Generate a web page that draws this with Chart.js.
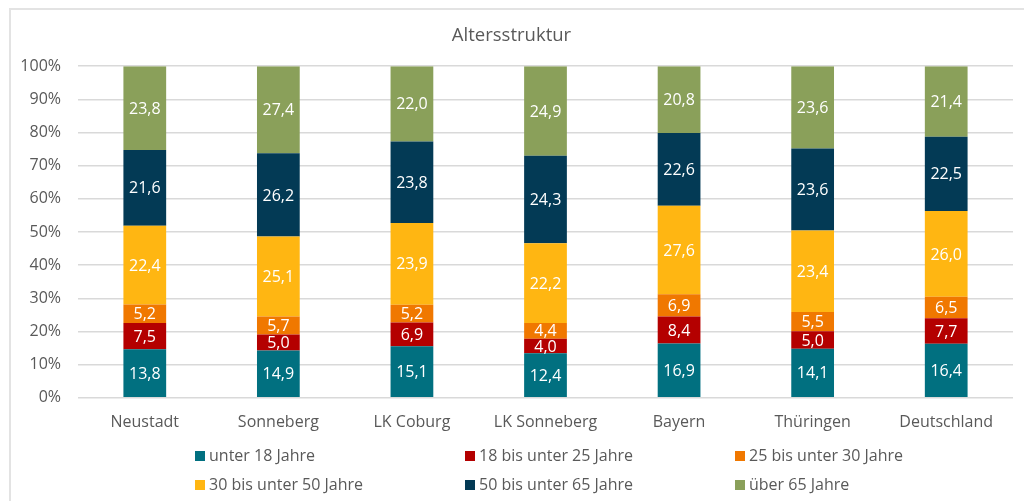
<!DOCTYPE html>
<html>
<head>
<meta charset="utf-8">
<script src="https://cdn.jsdelivr.net/npm/chart.js@4"></script>
<style>
  html, body { margin: 0; padding: 0; background: #fff; }
  #wrap { position: relative; width: 1024px; height: 501px; }
  #frame { position: absolute; left: 9px; top: 8px; right: 0; bottom: -2px;
           border-top: 2px solid #e3e3e3; border-left: 2px solid #e3e3e3; }
  canvas { position: absolute; left: 0; top: 0; }
</style>
</head>
<body>
<div id="wrap">
  <div id="frame"></div>
  <canvas id="chart" width="1024" height="501"></canvas>
</div>
<script>
// ======================================================
// Daten
// ======================================================
const regions = ["Neustadt", "Sonneberg", "LK Coburg", "LK Sonneberg", "Bayern", "Thüringen", "Deutschland"];
const groups = ["unter 18 Jahre", "18 bis unter 25 Jahre", "25 bis unter 30 Jahre",
                "30 bis unter 50 Jahre", "50 bis unter 65 Jahre", "über 65 Jahre"];

const unter18 = [13.8, 14.9, 15.1, 12.4, 16.9, 14.1, 16.4];
const von18bis25 = [7.5, 5.0, 6.9, 4.0, 8.4, 5.0, 7.7];
const von25bis30 = [5.2, 5.7, 5.2, 4.4, 6.9, 5.5, 6.5];
const von30bis50 = [22.4, 25.1, 23.9, 22.2, 27.6, 23.4, 26.0];
const von50bis65 = [21.6, 26.2, 23.8, 24.3, 22.6, 23.6, 22.5];
const ueber65 = [23.8, 27.4, 22.0, 24.9, 20.8, 23.6, 21.4];

const yTicks = [0, 10, 20, 30, 40, 50, 60, 70, 80, 90, 100];

const series = [unter18, von18bis25, von25bis30, von30bis50, von50bis65, ueber65];
const colors = ["#017080", "#B40000", "#F07800", "#FFB612", "#033A55", "#8AA05A"];

// Summen je Region (100%-Stapel)
const totals = regions.map((_, i) => series.reduce((s, arr) => s + arr[i], 0));

const GREY = "#595959";
const FONT = "'Open Sans', 'Noto Sans', sans-serif";

// ======================================================
// Plugin: Werte in den Balken
// ======================================================
const valueLabels = {
  id: "valueLabels",
  afterDatasetsDraw(chart) {
    const ctx = chart.ctx;
    ctx.save();
    ctx.fillStyle = "#fff";
    ctx.font = "16px " + FONT;
    ctx.textAlign = "center";
    ctx.textBaseline = "middle";
    chart.data.datasets.forEach((ds, di) => {
      const meta = chart.getDatasetMeta(di);
      meta.data.forEach((bar, i) => {
        const y = (bar.y + bar.base) / 2;
        ctx.fillText(ds.raw[i].toFixed(1).replace(".", ","), bar.x, y + 1);
      });
    });
    ctx.restore();
  }
};

// ======================================================
// Plugin: Legende (3 Spalten, 2 Zeilen)
// ======================================================
const gridLegend = {
  id: "gridLegend",
  afterDraw(chart) {
    const ctx = chart.ctx;
    ctx.save();
    ctx.font = "16px " + FONT;
    ctx.textBaseline = "middle";
    ctx.textAlign = "left";
    chart.data.datasets.forEach((ds, i) => {
      const col = i % 3;
      const row = Math.floor(i / 3);
      const x = 195 + col * 270;
      const y = 456 + row * 29;
      ctx.fillStyle = ds.backgroundColor;
      ctx.fillRect(x, y - 5, 10, 10);
      ctx.fillStyle = GREY;
      ctx.fillText(ds.label, x + 14, y);
    });
    ctx.restore();
  }
};

new Chart(document.getElementById("chart"), {
  type: "bar",
  data: {
    labels: regions,
    datasets: series.map((arr, k) => ({
      label: groups[k],
      raw: arr,
      data: arr.map((v, i) => v / totals[i] * 100),
      backgroundColor: colors[k],
      borderWidth: 0,
      barPercentage: 0.64,
      categoryPercentage: 0.5
    }))
  },
  options: {
    responsive: false,
    animation: false,
    layout: { padding: { left: 10, right: 11, top: 0, bottom: 62 } },
    plugins: {
      legend: { display: false },
      tooltip: { enabled: false },
      title: {
        display: true,
        text: "Altersstruktur",
        color: GREY,
        font: { family: FONT, size: 18.5, weight: "normal" },
        padding: { top: 25, bottom: 19 }
      }
    },
    scales: {
      x: {
        stacked: true,
        grid: { display: false },
        border: { display: false },
        ticks: { color: GREY, font: { family: FONT, size: 16 }, padding: 7 }
      },
      y: {
        stacked: true,
        min: 0,
        max: 100,
        afterBuildTicks(scale) { scale.ticks = yTicks.map(v => ({ value: v })); },
        afterFit(scale) { scale.width = 68; },
        grid: { color: "#d9d9d9", lineWidth: 1.5, drawTicks: false },
        border: { display: false },
        ticks: {
          color: GREY,
          font: { family: FONT, size: 16 },
          padding: 17,
          callback: v => v + "%"
        }
      }
    }
  },
  plugins: [valueLabels, gridLegend]
});
</script>
</body>
</html>
